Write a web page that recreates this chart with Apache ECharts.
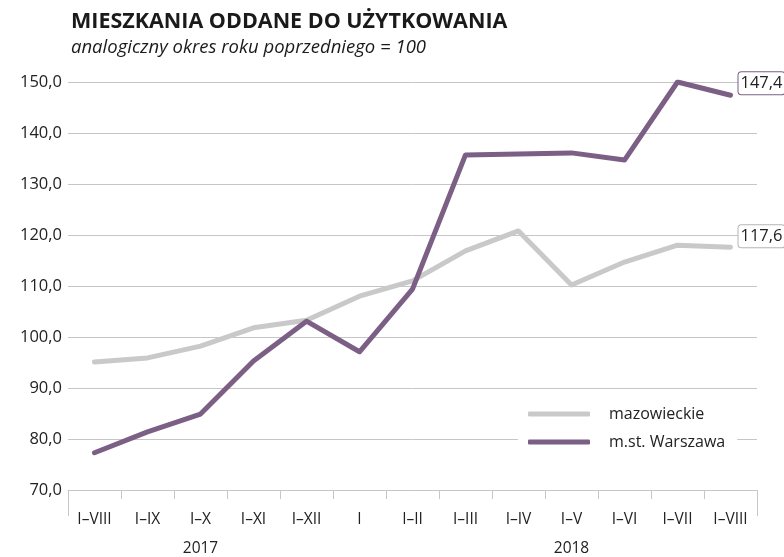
<!DOCTYPE html>
<html><head><meta charset="utf-8">
<script src="https://cdn.jsdelivr.net/npm/echarts@6/dist/echarts.min.js"></script>
<style>html,body{margin:0;padding:0;background:#fff}#c{width:784px;height:557px}</style>
</head><body><div id="c"></div>
<script>
const categories = ['I–VIII','I–IX','I–X','I–XI','I–XII','I','I–II','I–III','I–IV','I–V','I–VI','I–VII','I–VIII'];
const mazowieckie = [95.1, 95.9, 98.2, 101.8, 103.3, 108.0, 111.0, 116.9, 120.8, 110.2, 114.7, 118.0, 117.6];
const warszawa = [77.3, 81.4, 84.9, 95.3, 103.1, 97.1, 109.4, 135.7, 135.9, 136.1, 134.7, 150.0, 147.4];
const yearLabels = [{pos: 2.5, text: '2017'}, {pos: 9.5, text: '2018'}];
const yearDividerIndex = 5;
const yMin = 70, yMax = 150, yStep = 10;

const FONT = '"Open Sans", "Noto Sans", sans-serif';
const fmt = v => v.toFixed(1).replace('.', ',');
const chart = echarts.init(document.getElementById('c'), null, {renderer: 'canvas'});
chart.setOption({
  animation: false,
  backgroundColor: '#fff',
  textStyle: {fontFamily: FONT},
  title: {
    text: 'MIESZKANIA ODDANE DO UŻYTKOWANIA',
    subtext: 'analogiczny okres roku poprzedniego = 100',
    left: 66, top: 6, itemGap: 5,
    textStyle: {fontFamily: FONT, fontWeight: 'bold', fontSize: 21.5, color: '#1a1a1a'},
    subtextStyle: {fontFamily: FONT, fontStyle: 'italic', fontSize: 18.5, color: '#1a1a1a'}
  },
  grid: {left: 68, right: 27, top: 82, bottom: 67, containLabel: false},
  legend: {
    orient: 'vertical', left: 518, top: 402, padding: [4, 12, 4, 10], itemGap: 12,
    backgroundColor: '#fff',
    icon: 'roundRect', itemWidth: 62, itemHeight: 5,
    textStyle: {fontFamily: FONT, fontSize: 16, color: '#222', padding: [0, 0, 0, 14]},
    data: ['mazowieckie', 'm.st. Warszawa']
  },
  xAxis: [
    {
      type: 'category', data: categories, boundaryGap: true, position: 'bottom',
      axisLine: {show: true, lineStyle: {color: '#c6c6c6', width: 1}},
      axisTick: {show: true, length: 9, lineStyle: {color: '#c6c6c6'}},
      axisLabel: {fontFamily: FONT, fontSize: 15.5, color: '#222', margin: 22},
      splitLine: {show: false}
    },
    {
      type: 'value', min: 0, max: categories.length, interval: 0.5, position: 'bottom',
      axisLine: {show: false}, axisTick: {show: false}, splitLine: {show: false},
      axisLabel: {
        fontFamily: FONT, fontSize: 15.5, color: '#222', margin: 51,
        formatter: v => { const y = yearLabels.find(o => Math.abs(o.pos - v) < 1e-6); return y ? y.text : ''; }
      }
    },
    {
      type: 'category', data: categories, boundaryGap: true, position: 'bottom',
      axisLine: {show: false}, axisLabel: {show: false}, splitLine: {show: false},
      axisTick: {show: true, length: 26, interval: (i) => i === yearDividerIndex, lineStyle: {color: '#c6c6c6'}}
    }
  ],
  yAxis: {
    type: 'value', min: yMin, max: yMax, interval: yStep,
    axisLine: {show: false}, axisTick: {show: false},
    splitLine: {show: true, lineStyle: {color: '#c6c6c6', width: 1}},
    axisLabel: {fontFamily: FONT, fontSize: 16.5, color: '#222', margin: 6, formatter: v => fmt(v)}
  },
  series: [
    {
      name: 'mazowieckie', type: 'line', data: mazowieckie, xAxisIndex: 0,
      showSymbol: false, symbol: 'none',
      lineStyle: {color: '#c9c9c9', width: 5, cap: 'round', join: 'round'},
      itemStyle: {color: '#c9c9c9'},
      endLabel: {
        show: true, formatter: p => fmt(p.value), distance: 8, offset: [0, -11],
        fontFamily: FONT, fontSize: 16.5, color: '#222',
        backgroundColor: '#fff', borderColor: '#b5b5b5', borderWidth: 1, borderRadius: 3,
        padding: [3, 2, 2, 2]
      }
    },
    {
      name: 'm.st. Warszawa', type: 'line', data: warszawa, xAxisIndex: 0,
      showSymbol: false, symbol: 'none',
      lineStyle: {color: '#7b5f85', width: 5, cap: 'round', join: 'round'},
      itemStyle: {color: '#7b5f85'},
      endLabel: {
        show: true, formatter: p => fmt(p.value), distance: 8, offset: [0, -12],
        fontFamily: FONT, fontSize: 16.5, color: '#222',
        backgroundColor: '#fff', borderColor: '#7b5f85', borderWidth: 1, borderRadius: 3,
        padding: [3, 2, 2, 2]
      }
    }
  ]
});
</script></body></html>
